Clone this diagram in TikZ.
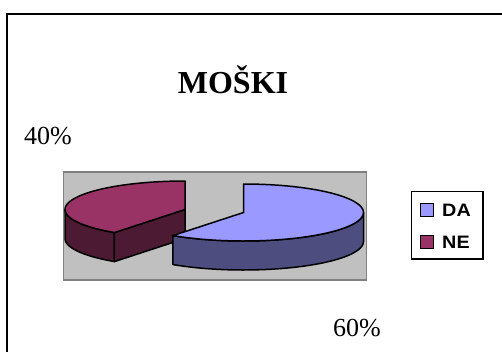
\documentclass[tikz,border=0pt]{standalone}
\usepackage{fontspec}
\setmainfont{Liberation Serif}
\newfontfamily\legfont{Liberation Sans}
\definecolor{bluetop}{HTML}{9999FF}
\definecolor{blueside}{HTML}{4D4D80}
\definecolor{purptop}{HTML}{993366}
\definecolor{purpside}{HTML}{4D1A33}
\definecolor{plotgray}{HTML}{C0C0C0}
\definecolor{plotedge}{HTML}{808080}
\begin{document}
\begin{tikzpicture}[x=1pt,y=-1pt,
  pieline/.style={draw=black,line width=1.5pt,line join=round},
  swatch/.style={draw=black,line width=1.6pt,minimum width=13pt,minimum height=13pt,inner sep=0pt},
  legtext/.style={font=\legfont\bfseries\fontsize{18}{18}\selectfont,anchor=base west,inner sep=0pt},
  pct/.style={font=\fontsize{26}{26}\selectfont,anchor=base west,inner sep=0pt}]
\useasboundingbox (0,0) rectangle (502,351);
\clip (0,0) rectangle (502,351);
% outer frame
\draw[line width=2pt] (7,400) -- (7,14) -- (560,14);
% title and labels
\node[font=\bfseries\fontsize{32}{32}\selectfont,anchor=base,inner sep=0pt] (title) at (233,93) {MOŠKI};
\node[pct] (p40) at (24,144) {40\%};
\node[pct] (p60) at (333,336) {60\%};
% plot area
\draw[fill=plotgray,draw=plotedge,line width=1.4pt] (63.5,172) rectangle (366.5,280);
% purple slice (exploded)
\def\pcx{185}\def\pcy{209.5}\def\pa{120}\def\pb{28.5}\def\pd{29}
\filldraw[pieline,fill=purpside]
  plot[domain=216:270,samples=30] ({\pcx+\pa*sin(\x)},{\pcy-\pb*cos(\x)})
  -- plot[domain=270:216,samples=30] ({\pcx+\pa*sin(\x)},{\pcy+\pd-\pb*cos(\x)}) -- cycle;
\filldraw[pieline,fill=purpside]
  (\pcx,\pcy) -- ({\pcx+\pa*sin(216)},{\pcy-\pb*cos(216)})
  -- ({\pcx+\pa*sin(216)},{\pcy+\pd-\pb*cos(216)}) -- (\pcx,\pcy+\pd) -- cycle;
\filldraw[pieline,fill=purptop]
  (\pcx,\pcy) -- plot[domain=216:360,samples=60] ({\pcx+\pa*sin(\x)},{\pcy-\pb*cos(\x)}) -- cycle;
% blue slice
\def\bcx{243.5}\def\bcy{212.5}
\filldraw[pieline,fill=blueside]
  plot[domain=90:216,samples=40] ({\bcx+\pa*sin(\x)},{\bcy-\pb*cos(\x)})
  -- plot[domain=216:90,samples=40] ({\bcx+\pa*sin(\x)},{\bcy+\pd-\pb*cos(\x)}) -- cycle;
\filldraw[pieline,fill=bluetop]
  (\bcx,\bcy) -- plot[domain=0:216,samples=80] ({\bcx+\pa*sin(\x)},{\bcy-\pb*cos(\x)}) -- cycle;
% legend
\node[draw=black,fill=white,line width=1.8pt,minimum width=71.5pt,minimum height=67.5pt,inner sep=0pt] (legend) at (447.25,225.25) {};
\node[swatch,fill=bluetop] (swDA) at (427,210) {};
\node[swatch,fill=purptop] (swNE) at (427,242) {};
\node[legtext] (tDA) at (442,216) {\scalebox{1.1}[1]{DA}};
\node[legtext] (tNE) at (442,248) {\scalebox{1.1}[1]{NE}};
\end{tikzpicture}
\end{document}
